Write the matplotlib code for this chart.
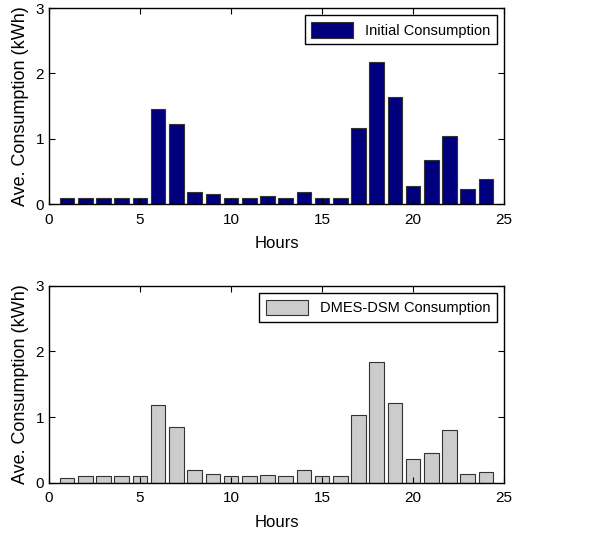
import matplotlib.pyplot as plt
import numpy as np

plt.rcParams['font.family'] = ['Liberation Sans', 'DejaVu Sans']

hours = np.arange(1, 25)
initial = [0.10, 0.10, 0.10, 0.10, 0.10, 1.46, 1.23, 0.18, 0.16, 0.10, 0.10, 0.12,
           0.10, 0.18, 0.10, 0.10, 1.16, 2.17, 1.64, 0.28, 0.67, 1.05, 0.24, 0.38]
dsm = [0.07, 0.10, 0.10, 0.10, 0.10, 1.19, 0.85, 0.19, 0.14, 0.10, 0.10, 0.12,
       0.10, 0.19, 0.10, 0.10, 1.03, 1.84, 1.21, 0.36, 0.45, 0.81, 0.14, 0.16]
series = [(initial, '#00007f', 'Initial Consumption'),
          (dsm, '#cccccc', 'DMES-DSM Consumption')]

fig = plt.figure(figsize=(5.89, 5.36), dpi=100)
boxes = [[0.083, 0.619, 0.773, 0.366], [0.083, 0.099, 0.773, 0.368]]

for (vals, col, lab), box in zip(series, boxes):
    ax = fig.add_axes(box)
    ax.bar(hours, vals, width=0.8, color=col, edgecolor='#333333', linewidth=0.8, label=lab)
    ax.set_xlim(0, 25)
    ax.set_ylim(0, 3)
    ax.set_xticks([0, 5, 10, 15, 20, 25])
    ax.set_yticks([0, 1, 2, 3])
    ax.tick_params(direction='in', top=True, right=True, labelsize=11, length=4)
    ax.tick_params(axis='x', pad=6)
    ax.set_xlabel('Hours', fontsize=12, labelpad=7)
    ax.set_ylabel('Ave. Consumption (kWh)', fontsize=13, labelpad=5)
    leg = ax.legend(loc='upper right', fontsize=10.5, fancybox=False, framealpha=1,
                    edgecolor='black', borderaxespad=0.5, handlelength=2.9,
                    handleheight=1.3, borderpad=0.45)
    leg.get_frame().set_linewidth(1.0)
    for s in ax.spines.values():
        s.set_linewidth(1.0)

fig.savefig('out.png', dpi=100)
